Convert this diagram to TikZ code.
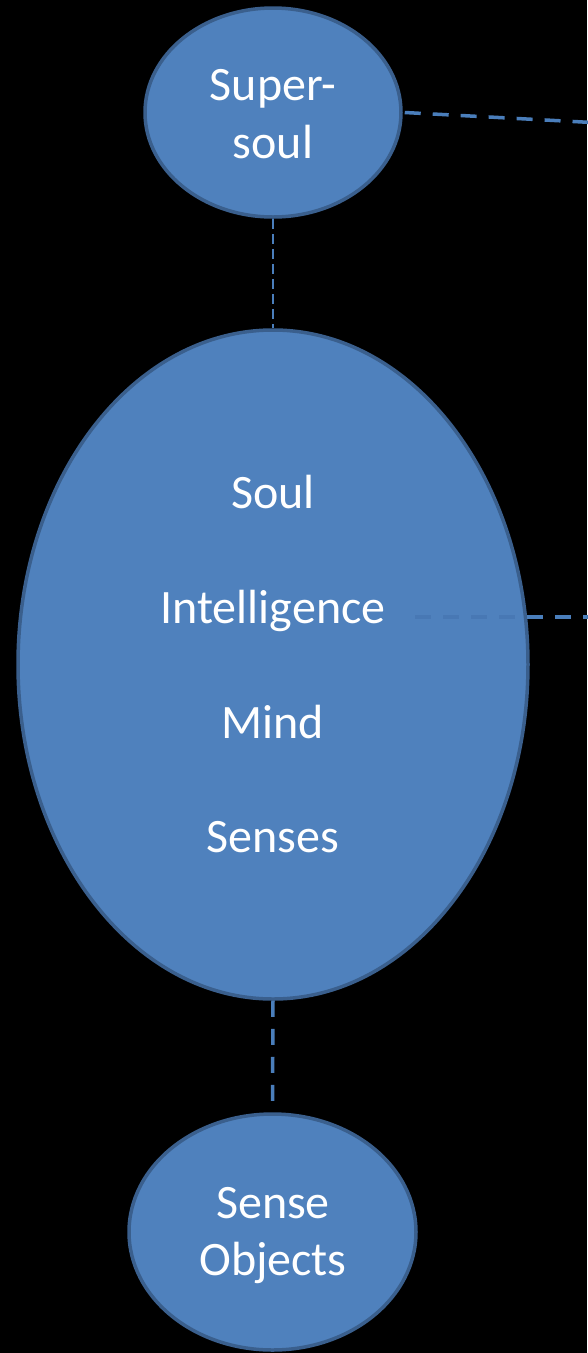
\documentclass[tikz,border=0pt]{standalone}
\usepackage{fontspec}
\setmainfont{Carlito}
\usetikzlibrary{shapes.geometric}
\definecolor{ellfill}{HTML}{4F81BD}
\definecolor{elldraw}{HTML}{3A5F8D}
\definecolor{dashcol}{HTML}{4A7EBB}
\definecolor{faintcol}{HTML}{4878B4}
\tikzset{
  oval/.style={ellipse, fill=ellfill, draw=elldraw, line width=3.5pt, inner sep=0pt},
  lbl/.style={anchor=base, text=white, font=\fontsize{48}{58}\selectfont, inner sep=0pt},
  conn/.style={draw=dashcol, line width=3.5pt, dash pattern=on 16pt off 12pt},
  thinconn/.style={draw=dashcol, line width=2.2pt, dash pattern=on 10pt off 5pt},
}
\begin{document}
\begin{tikzpicture}[x=1pt,y=-1pt]
\fill[black] (0,0) rectangle (587,1353);
\useasboundingbox (0,0) rectangle (587,1353);
\node[oval, minimum width=256pt, minimum height=209pt] (super) at (273,112.5) {};
\node[oval, minimum width=510pt, minimum height=669pt] (big) at (273,664.5) {};
\node[oval, minimum width=287pt, minimum height=236pt] (sense) at (272.5,1232) {};
\node[lbl] (t1) at (273,100) {Super-};
\node[lbl] (t2) at (273,158) {soul};
\node[lbl] (soul) at (273,508) {Soul};
\node[lbl] (intel) at (273,623) {Intelligence};
\node[lbl] (mind) at (273,738) {Mind};
\node[lbl] (senses) at (273,852) {Senses};
\node[lbl] (s1) at (273,1218) {Sense};
\node[lbl] (s2) at (273,1275) {Objects};
\coordinate (topend) at (592,122.5);
\coordinate (istart) at (415,617);
\coordinate (iend) at (592,617);
\draw[thinconn] (super.south) -- (big.north);
\draw[conn] (big.south) -- (sense.north);
\draw[conn] ([xshift=2pt]super.east) -- (topend);
\draw[conn] (istart) -- (iend);
\begin{scope}
\clip (273,664.5) ellipse [x radius=253pt, y radius=332pt];
\draw[conn, draw=faintcol] (istart) -- (iend);
\end{scope}
\end{tikzpicture}
\end{document}
